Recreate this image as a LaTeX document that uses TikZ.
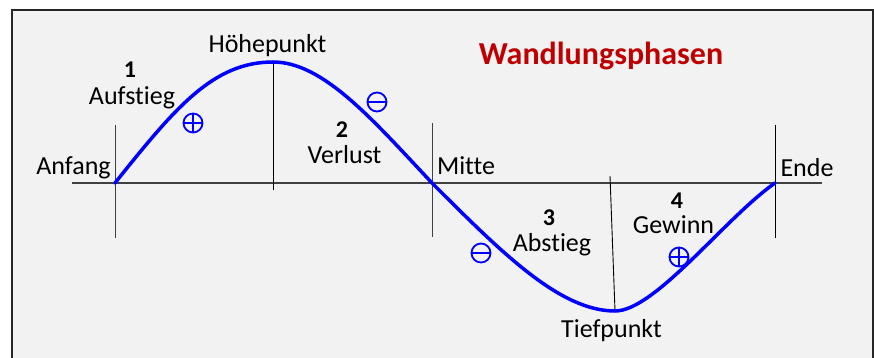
\documentclass[tikz,border=0pt]{standalone}
\usepackage{fontspec}
\setmainfont{Carlito}[Ligatures={NoCommon,NoRequired,NoContextual},RawFeature={-liga;-clig;-dlig}]
\definecolor{bg}{HTML}{F2F2F2}
\definecolor{titlered}{HTML}{C00000}
\definecolor{wave}{HTML}{0000FF}
\definecolor{axisgray}{HTML}{404040}
\begin{document}
\begin{tikzpicture}[x=1pt,y=-1pt,
  lbl/.style={inner sep=0pt,anchor=base,font=\fontsize{26}{30}\selectfont},
  num/.style={inner sep=0pt,anchor=base,font=\bfseries\fontsize{24}{28}\selectfont},
  ttl/.style={inner sep=0pt,anchor=base,text=titlered,font=\bfseries\fontsize{32}{36}\selectfont},
  sign/.style={circle,draw=wave,line width=1.8pt,minimum size=19pt,inner sep=0pt},
  signbar/.style={draw=wave,line width=1.8pt},
  mark line/.style={line width=0.9pt,draw=black},
  soft line/.style={line width=0.9pt,draw=axisgray}
]
\useasboundingbox (0,0) rectangle (874,358);
\fill[white] (0,0) rectangle (874,358);
\begin{scope}
\clip (0,0) rectangle (874,358);
\draw[fill=bg,line width=1.3pt,draw=black!85] (12,10) rectangle (873,380);
\end{scope}

% key points
\coordinate (start) at (115,183);
\coordinate (peak) at (273,62);
\coordinate (mid) at (432,183);
\coordinate (low) at (615,311);
\coordinate (fin) at (775,183);
\coordinate (axL) at (72,183);
\coordinate (axR) at (822,183);
\coordinate (aT) at (115,125);
\coordinate (aB) at (115,238);
\coordinate (pB) at (273,190);
\coordinate (mT) at (432,123);
\coordinate (mB) at (432,237);
\coordinate (lT) at (610,176);
\coordinate (eT) at (775,125);
\coordinate (eB) at (775,238);

% axis and marks
\draw[soft line,line width=1.1pt] (axL) -- (axR);
\draw[soft line] (aT) -- (aB);
\draw[mark line] (peak) -- (pB);
\draw[soft line] (mT) -- (mB);
\draw[mark line] (lT) -- (low);
\draw[mark line] (eT) -- (eB);

% wave
\draw[wave,line width=3.5pt,line cap=round]
  (start) .. controls (175,108) and (213,62) .. (peak)
          .. controls (323,62) and (372,119) .. (mid)
          .. controls (502,253) and (560,311) .. (low)
          .. controls (655,311) and (725,218) .. (fin);

% signs
\node[sign] (s1) at (193,123) {};
\draw[signbar] (s1.north) -- (s1.south) (s1.west) -- (s1.east);
\node[sign] (s2) at (377,102) {};
\draw[signbar] (s2.west) -- (s2.east);
\node[sign] (s3) at (481,253) {};
\draw[signbar] (s3.west) -- (s3.east);
\node[sign] (s4) at (679,257) {};
\draw[signbar] (s4.north) -- (s4.south) (s4.west) -- (s4.east);

% labels
\node[lbl] (tAnfang) at (73.5,175) {Anfang};
\node[num] (n1) at (130,78) {1};
\node[lbl] (tAuf) at (132,105) {Aufstieg};
\node[lbl] (tHoch) at (267.5,53) {Höhepunkt};
\node[num] (n2) at (342,138) {2};
\node[lbl] (tVer) at (344.5,164) {Verlust};
\node[lbl] (tMitte) at (466,175) {Mitte};
\node[ttl] (title) at (601,65) {Wandlungsphasen};
\node[lbl] (tEnde) at (807,176) {Ende};
\node[num] (n3) at (549,225) {3};
\node[lbl] (tAb) at (552,251) {Abstieg};
\node[num] (n4) at (677,208) {4};
\node[lbl] (tGew) at (673.5,233) {Gewinn};
\node[lbl] (tTief) at (611.5,337) {Tiefpunkt};
\end{tikzpicture}
\end{document}
